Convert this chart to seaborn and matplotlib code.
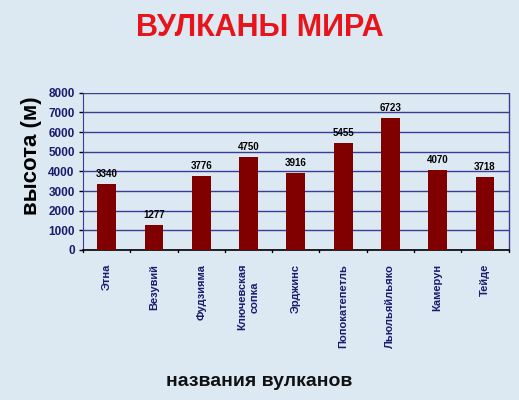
import pandas as pd
import seaborn as sns
import matplotlib.pyplot as plt

# Данные: вулканы и их высота (м)
volcanoes = ['Этна', 'Везувий', 'Фудзияма', 'Ключевская\nсопка', 'Эрджинс',
             'Попокатепетль', 'Льюльяйльяко', 'Камерун', 'Тейде']
heights = [3340, 1277, 3776, 4750, 3916, 5455, 6723, 4070, 3718]
y_ticks = [0, 1000, 2000, 3000, 4000, 5000, 6000, 7000, 8000]

df = pd.DataFrame({'volcano': volcanoes, 'height': heights})

sns.set_style('white')
plt.rcParams['font.family'] = ['Liberation Sans', 'DejaVu Sans']

navy = '#1c1c6e'
bg = '#dce8f2'

fig = plt.figure(figsize=(5.19, 4.0), dpi=100)
fig.patch.set_facecolor(bg)
ax = fig.add_axes([0.16, 0.375, 0.82, 0.393])
ax.set_facecolor('none')

sns.barplot(data=df, x='volcano', y='height', color='#800000', width=0.4,
            saturation=1, linewidth=0, edgecolor='none', ax=ax, zorder=3)

# подписи значений над столбцами
for i, h in enumerate(heights):
    ax.text(i, h + 250, str(h), ha='center', va='bottom', fontsize=7,
            fontweight='bold', color='black')

ax.set_ylim(0, 8000)
ax.set_xlim(-0.5, len(volcanoes) - 0.5)
ax.set_yticks(y_ticks)
ax.set_yticklabels([str(t) for t in y_ticks], fontsize=8.5, fontweight='bold', color=navy)
ax.set_xticks(range(len(volcanoes)))
ax.set_xticklabels(volcanoes, rotation=90, fontsize=8, fontweight='bold', color=navy,
                   va='top', ha='center', linespacing=1.3)
ax.tick_params(axis='x', length=0, pad=10)
ax.tick_params(axis='y', length=3, width=1, color='black', direction='out', left=True, pad=3)

# деления между категориями
for b in range(len(volcanoes) + 1):
    ax.plot([b - 0.5, b - 0.5], [0, -120], color='black', lw=1, clip_on=False, zorder=4)

ax.grid(axis='y', color='#3c3c96', lw=1, zorder=0)
for s in ['top', 'right']:
    ax.spines[s].set_visible(False)
ax.spines['left'].set_color('#3c3c96')
ax.spines['bottom'].set_color('black')
ax.spines['bottom'].set_linewidth(1.2)
ax.plot([1, 1], [0, 1], transform=ax.transAxes, color='#3c3c96', lw=1, clip_on=False)

ax.set_xlabel('')
ax.set_ylabel('высота (м)', fontsize=16, fontweight='bold', color='black')
ax.yaxis.set_label_coords(-0.097, 0.6)

fig.text(0.5, 0.025, 'названия вулканов', ha='center', va='bottom', fontsize=14,
         fontweight='bold', color='#111111')
fig.text(0.5, 0.93, 'ВУЛКАНЫ МИРА', ha='center', va='center', fontsize=22,
         fontweight='bold', color='#e8141c')

fig.savefig('out.png', dpi=100, facecolor=bg)
